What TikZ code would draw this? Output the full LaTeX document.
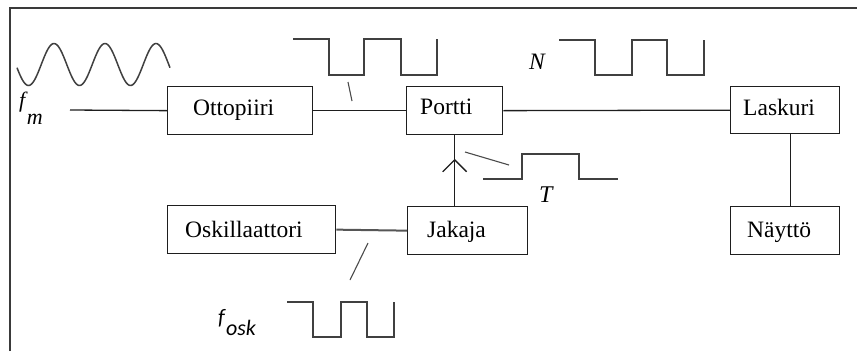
\documentclass[tikz,border=0pt]{standalone}
\usepackage{fontspec}
\setmainfont{Liberation Serif}
\newfontfamily\calfont{Carlito}
\usetikzlibrary{arrows.meta,decorations.markings}
\definecolor{ink}{HTML}{1E1E1E}
\definecolor{frameink}{HTML}{3A3A3A}
\begin{document}
\begin{tikzpicture}[x=1pt,y=-1pt,
  blk/.style={draw=ink, line width=1.3pt, rectangle, inner sep=0pt, anchor=north west},
  wire/.style={draw=ink, line width=1.3pt},
  wave/.style={draw=ink!85, line width=1.5pt, line join=miter},
  tick/.style={draw=ink!80, line width=1.1pt},
  lbl/.style={anchor=base west, inner sep=0pt, font=\fontsize{23.5}{28}\selectfont},
  sym/.style={anchor=base west, inner sep=0pt}]
  \useasboundingbox (0,0) rectangle (857,351);

  % outer frame (left and top edges only)
  \draw[frameink, line width=1.3pt] (10,351) -- (10,8) -- (857,8);

  % blocks
  \node[blk, minimum width=145pt, minimum height=48pt] (ott)  at (167,86)  {};
  \node[blk, minimum width=96pt,  minimum height=48pt] (port) at (406,86)  {};
  \node[blk, minimum width=109pt, minimum height=47pt] (lask) at (730,86)  {};
  \node[blk, minimum width=109pt, minimum height=48pt] (nayt) at (730,206) {};
  \node[blk, minimum width=120pt, minimum height=48pt] (jak)  at (407,206) {};
  \node[blk, minimum width=168pt, minimum height=48pt] (osk)  at (167,205) {};

  % block captions
  \node[lbl] (tott)  at (193,115) {Ottopiiri};
  \node[lbl] (tport) at (420,114) {Portti};
  \node[lbl] (tlask) at (743,115) {Laskuri};
  \node[lbl] (tjak)  at (427,237) {Jakaja};
  \node[lbl] (tnayt) at (747,237) {Näyttö};
  \node[lbl] (tosk)  at (185,237) {Oskillaattori};

  % connections
  \coordinate (fmin) at (70,110);
  \draw[wire] (fmin) -- (ott.west);
  \draw[wire] (ott.east) -- (port.west);
  \draw[wire] (port.east) -- (lask.west);
  \draw[wire] ([xshift=5pt]lask.south) -- ([xshift=5pt]nayt.north);
  \draw[draw=ink!75, line width=2pt] (osk.east) -- (jak.west);
  \draw[wire, postaction={decorate},
        decoration={markings, mark=at position 0.667 with
          {\arrow{Straight Barb[length=12pt,width=24pt,line width=1.3pt]}}}]
        (jak.north -| port.south) -- (port.south);

  % input sine wave f_m (period 51)
  \draw[wave, line width=1.5pt, smooth, samples=120, domain=17:170]
        plot (\x, {64.5 + 21*cos(7.0588*(\x-28.5))});
  \node[sym, font=\fontsize{22}{26}\selectfont] (fm) at (19,107)
        {\textit{f}\hspace{-1pt}\raisebox{-17pt}{\textit{m}}};

  % shaped pulse train after Ottopiiri
  \draw[wave] (293,39) -- (329,39) -- (329,75) -- (364,75) -- (364,39)
              -- (401,39) -- (401,75) -- (437,75) -- (437,39);
  \draw[tick] (348,82) -- (352,101);

  % gated pulses N
  \draw[wave] (559,40) -- (595,40) -- (595,75) -- (632,75) -- (632,40)
              -- (667,40) -- (667,75) -- (704,75) -- (704,40);
  \node[sym, font=\fontsize{23.5}{28}\selectfont] (nlab) at (529,69) {\textit{N}};

  % gate pulse T
  \draw[wave] (483,179) -- (522,179) -- (522,154) -- (579,154) -- (579,179) -- (618,179);
  \draw[tick] (465,152) -- (509,165);
  \node[sym, font=\fontsize{24}{28}\selectfont] (tlab) at (539,202) {\textit{T}};

  % oscillator pulses f_osk
  \draw[wave] (287,302) -- (313,302) -- (313,337) -- (341,337) -- (341,302)
              -- (367,302) -- (367,337) -- (394,337) -- (394,302);
  \draw[tick] (368,243) -- (350,280);
  \node[sym, font=\calfont\fontsize{22}{26}\selectfont] (fosk) at (218,324)
        {\textit{f}\raisebox{-11pt}{\textit{osk}}};
\end{tikzpicture}
\end{document}
